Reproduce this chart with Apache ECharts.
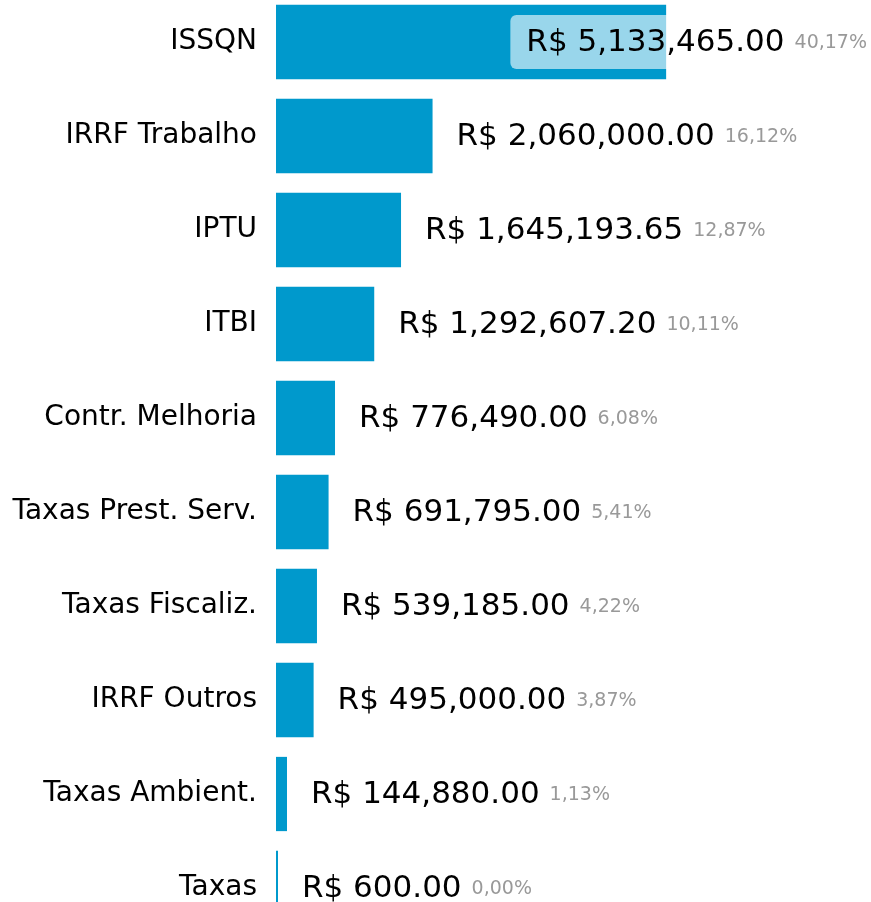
<!DOCTYPE html>
<html lang="pt-BR">
<head>
    <meta charset="UTF-8">
    <title>Receitas</title>
    <script src="https://cdn.jsdelivr.net/npm/echarts@6/dist/echarts.min.js"></script>
    <style>
        html, body { margin: 0; padding: 0; background: #fff; }
        #main { width: 871px; height: 902px; }
    </style>
</head>
<body>
<div id="main"></div>
<script type="text/javascript">
    // categorias e valores (R$)
    var categorias = ['ISSQN', 'IRRF Trabalho', 'IPTU', 'ITBI', 'Contr. Melhoria',
        'Taxas Prest. Serv.', 'Taxas Fiscaliz.', 'IRRF Outros', 'Taxas Ambient.', 'Taxas'];
    var valores = [5133465.00, 2060000.00, 1645193.65, 1292607.20, 776490.00,
        691795.00, 539185.00, 495000.00, 144880.00, 600.00];

    var total = valores.reduce(function (a, b) { return a + b; }, 0);

    function moeda(v) {
        return 'R$ ' + v.toLocaleString('en-US', { minimumFractionDigits: 2, maximumFractionDigits: 2 });
    }
    function pct(v) {
        return (v / total * 100).toFixed(2).replace('.', ',') + '%';
    }

    var myChart = echarts.init(document.getElementById('main'));

    var option = {
        backgroundColor: '#fff',
        animation: false,
        grid: {
            left: 276,
            width: 532,
            top: -5,
            height: 940,
            containLabel: false,
            outerBoundsMode: 'none'
        },
        xAxis: {
            type: 'value',
            min: 0,
            max: 7000000,
            show: false
        },
        yAxis: {
            type: 'category',
            inverse: true,
            data: categorias,
            axisLine: { show: false },
            axisTick: { show: false },
            axisLabel: {
                margin: 19,
                fontSize: 28,
                color: '#000',
                fontFamily: 'DejaVu Sans'
            }
        },
        series: [
            {
                type: 'bar',
                data: valores,
                barCategoryGap: '21%',
                barMinHeight: 2,
                itemStyle: { color: '#0099cc' },
                label: {
                    show: true,
                    position: 'right',
                    distance: 8,
                    backgroundColor: 'rgba(255,255,255,0.6)',
                    borderRadius: 6,
                    padding: [11, 4, 9, 16],
                    formatter: function (p) {
                        return '{v|' + moeda(p.value) + '}{p|' + pct(p.value) + '}';
                    },
                    rich: {
                        v: {
                            fontSize: 31,
                            lineHeight: 34,
                            color: '#000',
                            fontFamily: 'DejaVu Sans'
                        },
                        p: {
                            fontSize: 19,
                            color: '#999',
                            padding: [0, 0, 0, 10],
                            fontFamily: 'DejaVu Sans'
                        }
                    }
                },
                // mantém o rótulo dentro da área do gráfico
                labelLayout: function (params) {
                    var w = myChart.getWidth();
                    var r = params.labelRect;
                    var over = r.x + r.width - w;
                    if (over > 0) {
                        return { dx: -over };
                    }
                    return {};
                }
            }
        ]
    };

    myChart.setOption(option);
</script>
</body>
</html>
